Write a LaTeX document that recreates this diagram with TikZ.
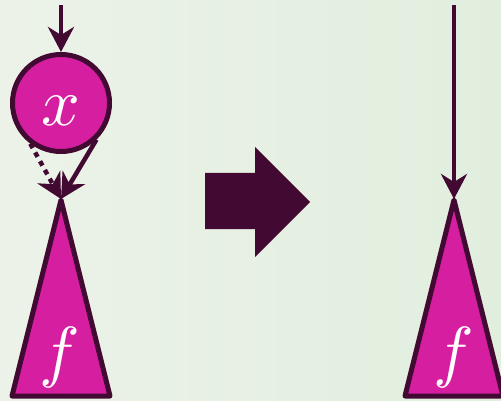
\documentclass[tikz,border=0pt]{standalone}
\usetikzlibrary{arrows.meta}
\definecolor{plum}{RGB}{66,10,50}
\definecolor{magen}{RGB}{213,31,160}
\definecolor{bgA}{RGB}{236,242,232}
\definecolor{bgB}{RGB}{225,238,222}
\tikzset{
  shape line/.style={draw=plum, line width=5pt, fill=magen, line join=round},
  conn/.style={draw=plum, line width=4.5pt, -{Stealth[length=25pt,width=26pt,inset=8pt]}},
  dotconn/.style={conn, dash pattern=on 5pt off 5pt},
  lbl/.style={text=white, scale=6.8, inner sep=0pt}
}
\begin{document}
\begin{tikzpicture}[x=1pt,y=-1pt]
\useasboundingbox (0,0) rectangle (501,401);
\clip (0,0) rectangle (501,401);
\shade[left color=bgA, right color=bgB] (0,0) rectangle (501,401);
% left side
\node[shape line, circle, minimum size=97pt, inner sep=0pt] (x) at (61,103) {};
\node[lbl] (xl) at (61,111) {$x$};
\coordinate (top1) at (61,5);
\draw[shape line] (61,200) -- (12,396) -- (110,396) -- cycle;
\coordinate (apex1) at (61,199);
\node[lbl] (f1) at (60,357) {$f$};
\draw[conn] (top1) -- (x.north);
\draw[conn] (x.-46) -- (apex1);
\draw[dotconn] (x.-127) -- (apex1);
% big arrow
\fill[plum] (205,173) -- (255,173) -- (255,147) -- (310,202) -- (255,257) -- (255,229) -- (205,229) -- cycle;
% right side
\coordinate (top2) at (454,5);
\draw[shape line] (454,200) -- (405,396) -- (503,396) -- cycle;
\coordinate (apex2) at (454,199);
\node[lbl] (f2) at (454,357) {$f$};
\draw[conn] (top2) -- (apex2);
\end{tikzpicture}
\end{document}
